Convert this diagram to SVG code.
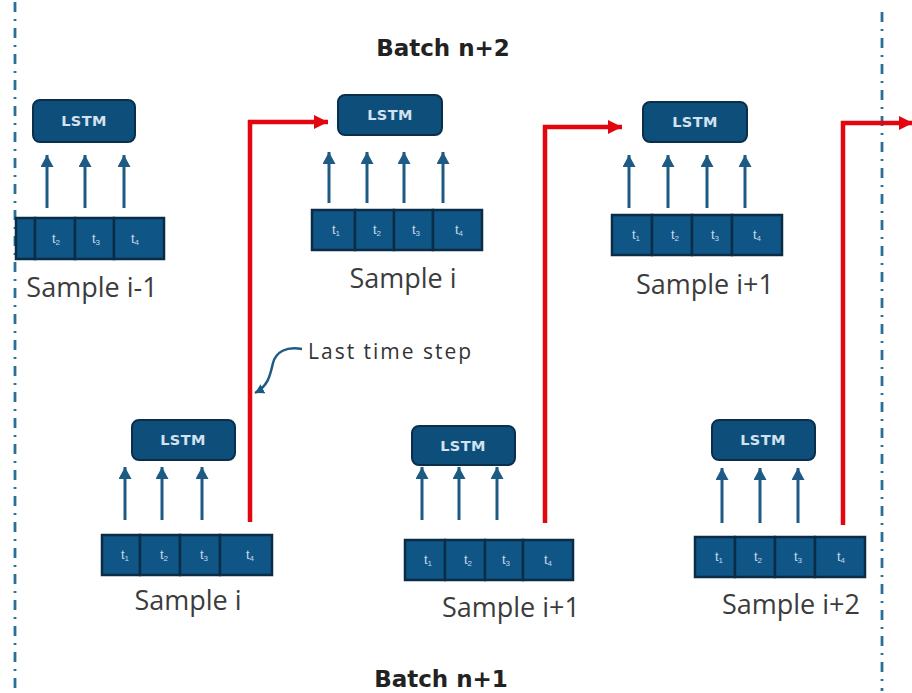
<svg xmlns="http://www.w3.org/2000/svg" width="912" height="693" viewBox="0 0 912 693">
  <defs>
    <style>
      .box { fill: #0e4e7a; stroke: #0a2f4c; stroke-width: 2; }
      .cell { fill: #0f5686; stroke: #0a2c46; stroke-width: 2.5; }
      .up { stroke: #1d5a84; stroke-width: 3; fill: none; marker-end: url(#blueTip); }
      .red { stroke: #e3060f; stroke-width: 4.5; fill: none; marker-end: url(#redTip); }
      .sep { stroke: #2b6e98; stroke-width: 2.8; stroke-dasharray: 10 7 2 7; fill: none; }
      .lstm { font-family: "DejaVu Sans", "Liberation Sans", sans-serif; font-weight: bold; font-size: 14.5px; letter-spacing: 0.4px; fill: #d3e2ee; text-anchor: middle; }
      .t { font-family: "Liberation Sans", Arial, sans-serif; font-size: 13px; fill: #c6d9e8; text-anchor: middle; }
      .t tspan { font-size: 8px; }
      .lbl { font-family: "Open Sans", "Liberation Sans", sans-serif; font-size: 27px; fill: #3c3c3c; text-anchor: middle; }
      .note { font-family: "Open Sans", "Liberation Sans", sans-serif; font-size: 21px; letter-spacing: 2px; fill: #333333; }
      .batch { font-family: "DejaVu Sans", "Liberation Sans", sans-serif; font-weight: bold; font-size: 23px; fill: #222222; text-anchor: middle; }
    </style>
    <marker id="blueTip" markerUnits="userSpaceOnUse" markerWidth="13" markerHeight="13" refX="12" refY="6.5" orient="auto">
      <path d="M0,0 L12,6.5 L0,13 z" fill="#1d5a84"/>
    </marker>
    <marker id="redTip" markerUnits="userSpaceOnUse" markerWidth="15" markerHeight="14" refX="14" refY="7" orient="auto">
      <path d="M0,0 L14,7 L0,14 z" fill="#e3060f"/>
    </marker>
    <marker id="curlTip" markerUnits="userSpaceOnUse" markerWidth="10" markerHeight="10" refX="9" refY="5" orient="auto">
      <path d="M0,0 L9,5 L0,10 z" fill="#1d5a84"/>
    </marker>
  </defs>

  <rect width="912" height="693" fill="#ffffff"/>

  <!-- batch boundaries -->
  <line class="sep" x1="15" y1="2" x2="15" y2="691"/>
  <line class="sep" x1="882" y1="12" x2="882" y2="691"/>

  <text class="batch" x="443" y="56">Batch n+2</text>
  <text class="batch" x="441" y="687">Batch n+1</text>

  <!-- Batch n+2, sample i-1 -->
  <g id="top-sample-im1">
    <rect class="box" x="33" y="100" width="102" height="42" rx="7"/>
    <text class="lstm" x="84" y="126">LSTM</text>
    <line class="up" x1="47" y1="208" x2="47" y2="155"/>
    <line class="up" x1="85" y1="208" x2="85" y2="155"/>
    <line class="up" x1="124" y1="208" x2="124" y2="155"/>
    <rect class="cell" x="16" y="218" width="19" height="41"/>
    <rect class="cell" x="35" y="218" width="40" height="41"/>
    <rect class="cell" x="75" y="218" width="39" height="41"/>
    <rect class="cell" x="114" y="218" width="50" height="41"/>
    <text class="t" x="56" y="243">t<tspan dy="2">2</tspan></text>
    <text class="t" x="96" y="243">t<tspan dy="2">3</tspan></text>
    <text class="t" x="135" y="243">t<tspan dy="2">4</tspan></text>
    <text class="lbl" x="92" y="297">Sample i-1</text>
  </g>

  <!-- Batch n+2, sample i -->
  <g id="top-sample-i">
    <rect class="box" x="338" y="95" width="104" height="40" rx="7"/>
    <text class="lstm" x="390" y="120">LSTM</text>
    <line class="up" x1="329" y1="203" x2="329" y2="152"/>
    <line class="up" x1="367" y1="203" x2="367" y2="152"/>
    <line class="up" x1="404" y1="203" x2="404" y2="152"/>
    <line class="up" x1="443" y1="203" x2="443" y2="152"/>
    <rect class="cell" x="312" y="210" width="43" height="40"/>
    <rect class="cell" x="355" y="210" width="39" height="40"/>
    <rect class="cell" x="394" y="210" width="39" height="40"/>
    <rect class="cell" x="433" y="210" width="49" height="40"/>
    <text class="t" x="336" y="234">t<tspan dy="2">1</tspan></text>
    <text class="t" x="377" y="234">t<tspan dy="2">2</tspan></text>
    <text class="t" x="416" y="234">t<tspan dy="2">3</tspan></text>
    <text class="t" x="459" y="234">t<tspan dy="2">4</tspan></text>
    <text class="lbl" x="403" y="288">Sample i</text>
  </g>

  <!-- Batch n+2, sample i+1 -->
  <g id="top-sample-ip1">
    <rect class="box" x="643" y="102" width="104" height="40" rx="7"/>
    <text class="lstm" x="695" y="127">LSTM</text>
    <line class="up" x1="629" y1="208" x2="629" y2="155"/>
    <line class="up" x1="668" y1="208" x2="668" y2="155"/>
    <line class="up" x1="707" y1="208" x2="707" y2="155"/>
    <line class="up" x1="745" y1="208" x2="745" y2="155"/>
    <rect class="cell" x="612" y="215" width="40" height="40"/>
    <rect class="cell" x="652" y="215" width="40" height="40"/>
    <rect class="cell" x="692" y="215" width="40" height="40"/>
    <rect class="cell" x="732" y="215" width="50" height="40"/>
    <text class="t" x="636" y="239">t<tspan dy="2">1</tspan></text>
    <text class="t" x="675" y="239">t<tspan dy="2">2</tspan></text>
    <text class="t" x="715" y="239">t<tspan dy="2">3</tspan></text>
    <text class="t" x="757" y="239">t<tspan dy="2">4</tspan></text>
    <text class="lbl" x="705" y="294">Sample i+1</text>
  </g>

  <!-- Batch n+1, sample i -->
  <g id="bottom-sample-i">
    <rect class="box" x="132" y="420" width="103" height="40" rx="7"/>
    <text class="lstm" x="183" y="445">LSTM</text>
    <line class="up" x1="125" y1="520" x2="125" y2="467"/>
    <line class="up" x1="162" y1="520" x2="162" y2="467"/>
    <line class="up" x1="202" y1="520" x2="202" y2="467"/>
    <rect class="cell" x="102" y="535" width="38" height="40"/>
    <rect class="cell" x="140" y="535" width="40" height="40"/>
    <rect class="cell" x="180" y="535" width="40" height="40"/>
    <rect class="cell" x="220" y="535" width="52" height="40"/>
    <text class="t" x="125" y="559">t<tspan dy="2">1</tspan></text>
    <text class="t" x="164" y="559">t<tspan dy="2">2</tspan></text>
    <text class="t" x="204" y="559">t<tspan dy="2">3</tspan></text>
    <text class="t" x="250" y="559">t<tspan dy="2">4</tspan></text>
    <text class="lbl" x="188" y="610">Sample i</text>
  </g>

  <!-- Batch n+1, sample i+1 -->
  <g id="bottom-sample-ip1">
    <rect class="box" x="412" y="426" width="103" height="39" rx="7"/>
    <text class="lstm" x="463" y="451">LSTM</text>
    <line class="up" x1="422" y1="520" x2="422" y2="467"/>
    <line class="up" x1="459" y1="520" x2="459" y2="467"/>
    <line class="up" x1="497" y1="520" x2="497" y2="467"/>
    <rect class="cell" x="405" y="540" width="40" height="40"/>
    <rect class="cell" x="445" y="540" width="40" height="40"/>
    <rect class="cell" x="485" y="540" width="38" height="40"/>
    <rect class="cell" x="523" y="540" width="50" height="40"/>
    <text class="t" x="428" y="564">t<tspan dy="2">1</tspan></text>
    <text class="t" x="468" y="564">t<tspan dy="2">2</tspan></text>
    <text class="t" x="506" y="564">t<tspan dy="2">3</tspan></text>
    <text class="t" x="548" y="564">t<tspan dy="2">4</tspan></text>
    <text class="lbl" x="511" y="617">Sample i+1</text>
  </g>

  <!-- Batch n+1, sample i+2 -->
  <g id="bottom-sample-ip2">
    <rect class="box" x="712" y="420" width="103" height="40" rx="7"/>
    <text class="lstm" x="763" y="445">LSTM</text>
    <line class="up" x1="722" y1="523" x2="722" y2="468"/>
    <line class="up" x1="760" y1="523" x2="760" y2="468"/>
    <line class="up" x1="798" y1="523" x2="798" y2="468"/>
    <rect class="cell" x="695" y="537" width="40" height="40"/>
    <rect class="cell" x="735" y="537" width="40" height="40"/>
    <rect class="cell" x="775" y="537" width="40" height="40"/>
    <rect class="cell" x="815" y="537" width="50" height="40"/>
    <text class="t" x="719" y="561">t<tspan dy="2">1</tspan></text>
    <text class="t" x="758" y="561">t<tspan dy="2">2</tspan></text>
    <text class="t" x="798" y="561">t<tspan dy="2">3</tspan></text>
    <text class="t" x="841" y="561">t<tspan dy="2">4</tspan></text>
    <text class="lbl" x="791" y="614">Sample i+2</text>
  </g>

  <!-- hidden-state hand-over between batches -->
  <g id="connectors">
    <path class="red" d="M250,522 V122 H328"/>
    <path class="red" d="M545,523 V127 H622"/>
    <path class="red" d="M843,525 V123 H913"/>
    <path d="M302,349 C286,346 276,352 273,363 C270,376 268,386 255,393" stroke="#1d5a84" stroke-width="2.5" fill="none" marker-end="url(#curlTip)"/>
  </g>

  <text class="note" x="308" y="359">Last time step</text>
</svg>
